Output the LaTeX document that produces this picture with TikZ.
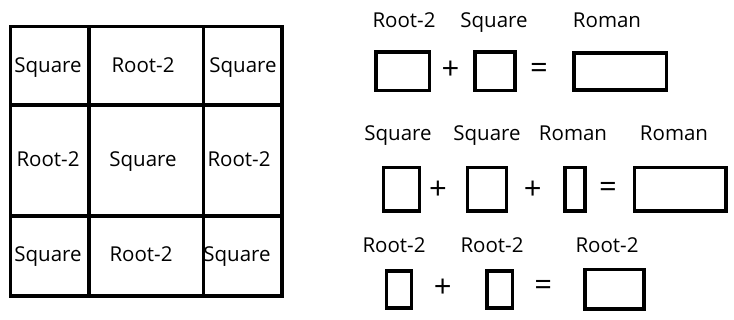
\documentclass[tikz,border=0pt]{standalone}
\usepackage{fontspec}
\setmainfont{Open Sans}
\tikzset{
  lbl/.style={inner sep=0pt, anchor=base, font=\fontsize{20.5}{24}\selectfont},
  op/.style={inner sep=0pt, anchor=center, font=\fontsize{31}{36}\selectfont},
  box/.style={draw, line width=3.5pt, inner sep=0pt, minimum width=#1},
  gridline/.style={line width=3.5pt}
}
\begin{document}
\begin{tikzpicture}[x=1pt,y=-1pt]
\useasboundingbox (0,0) rectangle (734,320);
% grid
\draw[gridline] (10.5,26.7) rectangle (282,296);
\draw[gridline] (89,26.7) -- (89,296);
\draw[gridline] (203.3,26.7) -- (203.3,296);
\draw[gridline] (10.5,105) -- (282,105);
\draw[gridline] (10.5,216) -- (282,216);
\node[lbl] (g11) at (48,72.5) {Square};
\node[lbl] (g12) at (143,72.5) {Root-2};
\node[lbl] (g13) at (243,72.5) {Square};
\node[lbl] (g21) at (48,166.7) {Root-2};
\node[lbl] (g22) at (143,166.7) {Square};
\node[lbl] (g23) at (239,166.7) {Root-2};
\node[lbl] (g31) at (48,261.7) {Square};
\node[lbl] (g32) at (141,261.7) {Root-2};
\node[lbl] (g33) at (237,261.7) {Square};
% row 1
\node[lbl] (l11) at (404,27.7) {Root-2};
\node[lbl] (l12) at (494,27.7) {Square};
\node[lbl] (l13) at (607,27.7) {Roman};
\node[box=53.5pt, minimum height=38.5pt] (b11) at (402.5,71.5) {};
\node[op] (p11) at (450.5,70.5) {+};
\node[box=40pt, minimum height=38.5pt] (b12) at (495,71.5) {};
\node[op] (e1) at (539,71) {=};
\node[box=92.5pt, minimum height=37pt] (b13) at (620,71.5) {};
% row 2
\node[lbl] (l21) at (398,140.5) {Square};
\node[lbl] (l22) at (487,140.5) {Square};
\node[lbl] (l23) at (573,140.5) {Roman};
\node[lbl] (l24) at (674,140.5) {Roman};
\node[box=36pt, minimum height=43.5pt] (b21) at (401.3,189.5) {};
\node[op] (p21) at (438,190) {+};
\node[box=39pt, minimum height=43.5pt] (b22) at (487.2,189.5) {};
\node[op] (p22) at (532.7,190) {+};
\node[box=20pt, minimum height=43.5pt] (b23) at (575,189.5) {};
\node[op] (e2) at (608,190) {=};
\node[box=91.5pt, minimum height=43.5pt] (b24) at (680.2,189.5) {};
% row 3
\node[lbl] (l31) at (394,252.3) {Root-2};
\node[lbl] (l32) at (492,252.3) {Root-2};
\node[lbl] (l33) at (607,252.3) {Root-2};
\node[box=25pt, minimum height=37pt] (b31) at (399.2,289.7) {};
\node[op] (p31) at (442.7,288) {+};
\node[box=25.5pt, minimum height=37pt] (b32) at (499.5,289.7) {};
\node[op] (e3) at (543.3,288) {=};
\node[box=59pt, minimum height=39.5pt] (b33) at (614.7,289.2) {};
\end{tikzpicture}
\end{document}
